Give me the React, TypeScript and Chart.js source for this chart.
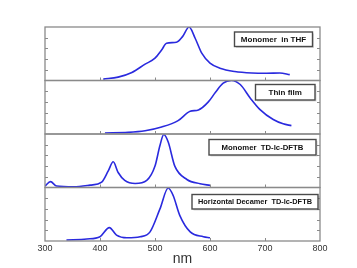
import React, { useEffect, useRef } from "react";
import { Chart, registerables } from "chart.js";

Chart.register(...registerables);

// Panel 1: Monomer in THF
const nm1 = [406, 433, 458, 482, 500, 512, 521, 539, 550, 562, 573, 585, 600, 618, 645, 676, 703, 727, 745];
const v1 = [0.026, 0.063, 0.15, 0.305, 0.417, 0.57, 0.696, 0.715, 0.82, 1.0, 0.79, 0.51, 0.324, 0.23, 0.168, 0.14, 0.135, 0.14, 0.11];
// Panel 2: Thin film
const nm2 = [409, 451, 482, 512, 542, 564, 579, 597, 610, 624, 639, 655, 673, 691, 715, 733, 748];
const v2 = [0.02, 0.03, 0.06, 0.13, 0.25, 0.425, 0.45, 0.6, 0.78, 0.95, 1.0, 0.925, 0.675, 0.456, 0.27, 0.19, 0.156];
// Panel 3: Monomer TD-lc-DFTB
const nm3 = [300, 310, 321, 352, 382, 403, 415, 424, 433, 445, 464, 485, 500, 509, 516, 524, 536, 558, 582, 600];
const v3 = [0.027, 0.11, 0.027, 0.013, 0.045, 0.1, 0.31, 0.48, 0.28, 0.133, 0.076, 0.133, 0.4, 0.785, 0.99, 0.85, 0.4, 0.15, 0.07, 0.04];
// Panel 4: Horizontal Decamer TD-lc-DFTB
const nm4 = [339, 376, 400, 417, 430, 449, 473, 491, 509, 524, 533, 545, 564, 588, 600];
const v4 = [0.02, 0.037, 0.08, 0.25, 0.11, 0.06, 0.08, 0.17, 0.6, 0.99, 0.85, 0.48, 0.17, 0.08, 0.06];

const panelLabels = ["Monomer  in THF", "Thin film", "Monomer  TD-lc-DFTB", "Horizontal Decamer  TD-lc-DFTB"];
const xTicks = [300, 400, 500, 600, 700, 800];
const yTicks = [0.2, 0.4, 0.6, 0.8];

const LINE = "#2a2ade";

const framePlugin = {
  id: "frames",
  afterDatasetsDraw(chart: any) {
    const ctx = chart.ctx as CanvasRenderingContext2D;
    const area = chart.chartArea;
    const xs = chart.scales.x;
    const ids = ["y1", "y2", "y3", "y4"];
    // label box geometry: [right inset, top inset, width, height, max text width]
    const boxes = [
      [7.5, 5, 78, 14.5, 66],
      [5, 4, 59.5, 15.5, 40],
      [4, 5.5, 107, 15.5, 82],
      [2, 7, 126, 14.5, 114],
    ];
    ctx.save();
    ids.forEach((id, i) => {
      const s = chart.scales[id];
      const top = s.getPixelForValue(1);
      const bot = s.getPixelForValue(0);
      ctx.strokeStyle = "#8a8a8a";
      ctx.lineWidth = 1.3;
      ctx.strokeRect(area.left, top, area.right - area.left, bot - top);
      ctx.lineWidth = 1;
      ctx.strokeStyle = "#8a8a8a";
      ctx.beginPath();
      yTicks.forEach((v) => {
        const y = Math.round(s.getPixelForValue(v)) + 0.5;
        ctx.moveTo(area.left, y);
        ctx.lineTo(area.left + 3, y);
        ctx.moveTo(area.right, y);
        ctx.lineTo(area.right - 3, y);
      });
      xTicks.slice(1, -1).forEach((v) => {
        const x = Math.round(xs.getPixelForValue(v)) + 0.5;
        ctx.moveTo(x, bot);
        ctx.lineTo(x, bot - 3);
      });
      ctx.stroke();

      const [ri, ti, w, h, tw] = boxes[i];
      const bx = area.right - ri - w;
      const by = top + ti;
      ctx.fillStyle = "rgba(0,0,0,0.15)";
      ctx.fillRect(bx + 1.5, by + 1.5, w, h);
      ctx.fillStyle = "#ffffff";
      ctx.fillRect(bx, by, w, h);
      ctx.strokeStyle = "#4a4a4a";
      ctx.lineWidth = 1.4;
      ctx.strokeRect(bx, by, w, h);
      ctx.fillStyle = "#111111";
      let size = 8;
      ctx.font = `bold ${size}px 'Liberation Sans', Arial, sans-serif`;
      const mw = ctx.measureText(panelLabels[i]).width;
      if (mw > tw) {
        size = (size * tw) / mw;
        ctx.font = `bold ${size}px 'Liberation Sans', Arial, sans-serif`;
      }
      ctx.textAlign = "center";
      ctx.textBaseline = "middle";
      ctx.fillText(panelLabels[i], bx + w / 2, by + h / 2 + 0.5);
    });
    ctx.restore();
  },
};

function yScale(weight: number) {
  return {
    type: "linear" as const,
    position: "left" as const,
    stack: "panels",
    stackWeight: 1,
    weight,
    min: 0,
    max: 1,
    display: true,
    ticks: { display: false },
    grid: { display: false, drawTicks: false },
    border: { display: false },
    afterFit: (s: any) => {
      s.width = 0;
    },
  };
}

export default function App() {
  const ref = useRef<HTMLCanvasElement | null>(null);
  useEffect(() => {
    document.body.style.margin = "0";
    const mk = (nm: number[], v: number[], id: string) => ({
      data: nm.map((x, i) => ({ x, y: v[i] })),
      yAxisID: id,
      borderColor: LINE,
      borderWidth: 1.6,
      pointRadius: 0,
      fill: false,
      tension: 0.4,
      cubicInterpolationMode: "monotone" as const,
    });
    const chart = new Chart(ref.current as HTMLCanvasElement, {
      type: "line",
      data: {
        datasets: [mk(nm1, v1, "y1"), mk(nm2, v2, "y2"), mk(nm3, v3, "y3"), mk(nm4, v4, "y4")],
      },
      options: {
        animation: false,
        responsive: false,
        maintainAspectRatio: false,
        layout: { padding: { left: 45, right: 37, top: 27, bottom: 0 } },
        plugins: { legend: { display: false }, tooltip: { enabled: false } },
        scales: {
          x: {
            type: "linear",
            min: 300,
            max: 800,
            afterBuildTicks: (s: any) => {
              s.ticks = xTicks.map((value) => ({ value }));
            },
            ticks: {
              padding: 2,
              color: "#333333",
              font: { size: 9, family: "'Liberation Sans', Arial, sans-serif" },
            },
            grid: { display: false, drawTicks: false },
            border: { display: false },
            title: {
              display: true,
              text: "nm",
              color: "#333333",
              padding: 0,
              font: { size: 14, family: "'Liberation Sans', Arial, sans-serif" },
            },
            afterFit: (s: any) => {
              s.height = 27;
            },
          },
          y1: yScale(4),
          y2: yScale(3),
          y3: yScale(2),
          y4: yScale(1),
        } as any,
      },
      plugins: [framePlugin],
    });
    return () => chart.destroy();
  }, []);
  return <canvas ref={ref} width={357} height={268} style={{ display: "block" }} />;
}
